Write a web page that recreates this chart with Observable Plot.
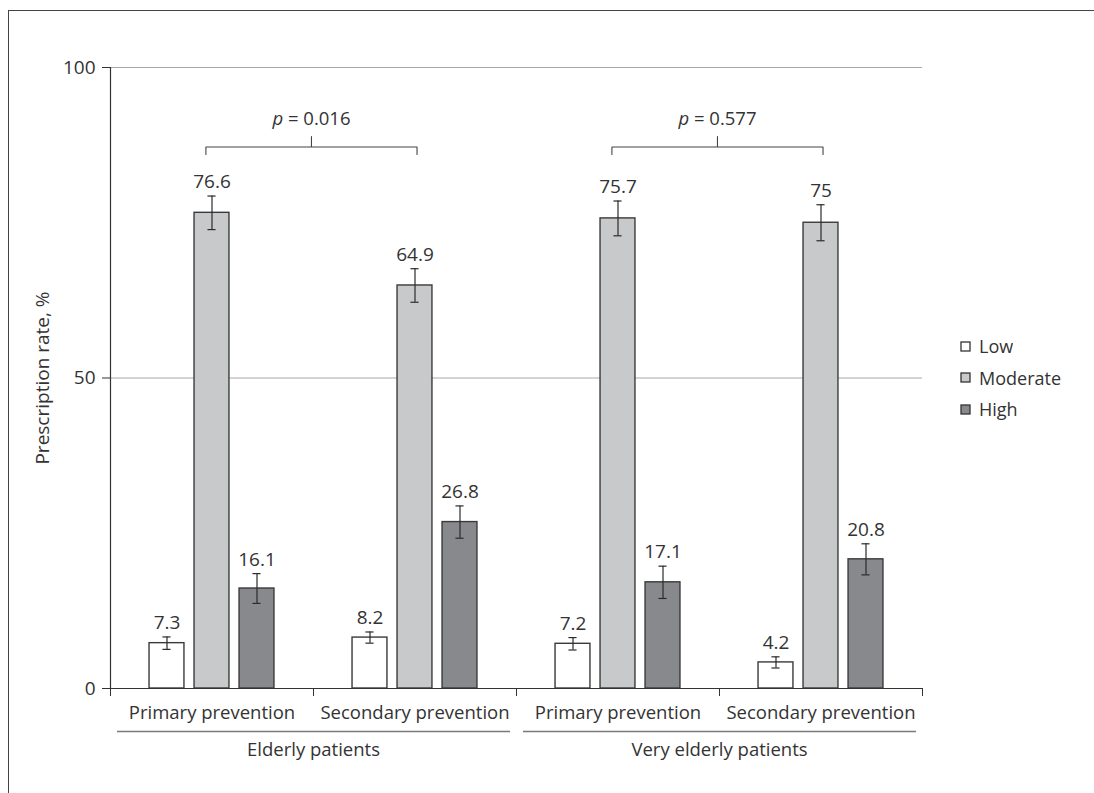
<!DOCTYPE html>
<html>
<head>
<meta charset="utf-8">
<script src="https://cdn.jsdelivr.net/npm/d3@7"></script>
<script src="https://cdn.jsdelivr.net/npm/@observablehq/plot@0.6"></script>
<style>
  body { margin: 0; background: #fff; }
  #wrap { position: relative; width: 1094px; height: 793px; overflow: hidden; font-family: "Segoe UI", "Open Sans", sans-serif; color: #333; }
  #frame { position: absolute; left: 8px; top: 10px; width: 1300px; height: 1000px; border: 1.7px solid #444; box-sizing: border-box; }
  #chart { position: absolute; left: 0; top: 0; }
  #legend { position: absolute; left: 961px; top: 331px; }
</style>
</head>
<body>
<div id="wrap">
  <div id="frame"></div>
  <div id="chart"></div>
  <div id="legend"></div>
</div>
<script>
// ---- data ----
const groups = ["Primary prevention", "Secondary prevention", "Primary prevention", "Secondary prevention"];
const populations = ["Elderly patients", "Very elderly patients"];
const levels = ["Low", "Moderate", "High"];
const low = [7.3, 8.2, 7.2, 4.2];
const moderate = [76.6, 64.9, 75.7, 75];
const high = [16.1, 26.8, 17.1, 20.8];
const lowErr = [1.0, 0.9, 1.0, 0.9];
const moderateErr = [2.7, 2.7, 2.8, 2.9];
const highErr = [2.4, 2.6, 2.6, 2.5];
const pValues = ["0.016", "0.577"];
const yTicks = [0, 50, 100];

// ---- styling / layout ----
const fills = ["#ffffff", "#c8c9cb", "#88898d"];
const barStep = 0.2217, barWidth = 0.172, capHalf = 0.02;
const bracketLevel = 87.2;

const series = [low, moderate, high];
const errs = [lowErr, moderateErr, highErr];
const rows = [];
groups.forEach((g, gi) => {
  levels.forEach((lv, li) => {
    rows.push({
      gi, level: lv, value: series[li][gi], err: errs[li][gi],
      xc: gi + 0.5 + (li - 1) * barStep
    });
  });
});

const bracketPts = [];
pValues.forEach((p, k) => {
  const a = 2 * k + 0.47, b = 2 * k + 1.51, m = (a + b) / 2, L = bracketLevel;
  [[a, L - 1.2], [a, L], [m, L], [m, L + 1.7], [m, L], [b, L], [b, L - 1.2]]
    .forEach(([x, y]) => bracketPts.push({k, x, y}));
});

const color = d3.scaleOrdinal(levels, fills);

const chart = Plot.plot({
  width: 1094,
  height: 793,
  marginLeft: 110,
  marginRight: 172,
  marginTop: 67,
  marginBottom: 105,
  style: { fontFamily: "'Segoe UI', 'Open Sans', sans-serif", fontSize: "18.5px", color: "#333", background: "transparent" },
  x: { type: "linear", domain: [0, 4], axis: null },
  y: { domain: [0, 100], axis: null },
  marks: [
    Plot.ruleY([50, 100], { stroke: "#a8a8a8", strokeWidth: 1 }),
    Plot.rectY(rows, {
      x1: d => d.xc - barWidth / 2, x2: d => d.xc + barWidth / 2,
      y1: 0, y2: "value",
      fill: d => color(d.level), stroke: "#3a3a3a", strokeWidth: 1.4
    }),
    Plot.ruleX(rows, { x: "xc", y1: d => d.value - d.err, y2: d => d.value + d.err, stroke: "#2a2a2a", strokeWidth: 1.2 }),
    Plot.ruleY(rows, { y: d => d.value + d.err, x1: d => d.xc - capHalf, x2: d => d.xc + capHalf, stroke: "#2a2a2a", strokeWidth: 1.2 }),
    Plot.ruleY(rows, { y: d => d.value - d.err, x1: d => d.xc - capHalf, x2: d => d.xc + capHalf, stroke: "#2a2a2a", strokeWidth: 1.2 }),
    Plot.text(rows, { x: "xc", y: d => d.value + d.err, text: d => String(d.value), dy: -14, lineAnchor: "middle", fontSize: 19 }),
    Plot.ruleY([0], { stroke: "#333", strokeWidth: 1.2 }),
    Plot.ruleX([0], { y1: 0, y2: 100, stroke: "#333", strokeWidth: 1.2 }),
    Plot.axisY(yTicks, {
      tickSize: 8, tickPadding: 7, fontSize: 19, stroke: "#333",
      label: "Prescription rate, %", labelAnchor: "center", labelOffset: 75, labelArrow: "none"
    }),
    Plot.axisX([0, 1, 2, 3, 4], { tickSize: 8, tickFormat: () => "", stroke: "#333" }),
    Plot.text(groups, { x: (d, i) => i + 0.5, y: 0, dy: 25, text: d => d, lineAnchor: "middle" }),
    Plot.ruleY(populations, { y: 0, dy: 43, x1: (d, i) => 2 * i, x2: (d, i) => 2 * i + 2, insetLeft: 7, insetRight: 6, stroke: "#7a7a7a", strokeWidth: 1.3 }),
    Plot.text(populations, { x: (d, i) => 2 * i + 1, y: 0, dy: 62, text: d => d, lineAnchor: "middle" }),
    Plot.line(bracketPts, { x: "x", y: "y", z: "k", stroke: "#444", strokeWidth: 1.1 }),
    Plot.text(pValues, { x: (d, i) => 2 * i + 0.99, y: bracketLevel, dy: -28, text: d => "p = " + d, lineAnchor: "middle", className: "pval" })
  ]
});
document.getElementById("chart").appendChild(chart);

// italic p
chart.querySelectorAll(".pval text").forEach(t => {
  const s = t.textContent;
  if (s.startsWith("p ")) {
    t.textContent = "";
    const ns = "http://www.w3.org/2000/svg";
    const a = document.createElementNS(ns, "tspan");
    a.setAttribute("font-style", "italic");
    a.textContent = "p";
    const b = document.createElementNS(ns, "tspan");
    b.textContent = s.slice(1);
    t.appendChild(a); t.appendChild(b);
  }
});

// legend
const lg = Plot.legend({
  color: { type: "ordinal", domain: levels, range: fills },
  columns: 1, swatchSize: 9,
  style: { fontFamily: "'Segoe UI', 'Open Sans', sans-serif", fontSize: "18px", color: "#333" }
});
document.getElementById("legend").appendChild(lg);
lg.querySelectorAll("svg").forEach(s => {
  s.style.overflow = "visible";
  s.querySelectorAll("rect").forEach(r => { r.setAttribute("stroke", "#333"); r.setAttribute("stroke-width", "1.3"); });
});
lg.querySelectorAll("div").forEach(dv => {
  if (dv.querySelector("svg")) { dv.style.height = "30.5px"; dv.style.lineHeight = "30.5px"; dv.style.display = "flex"; dv.style.alignItems = "center"; }
});
</script>
</body>
</html>
